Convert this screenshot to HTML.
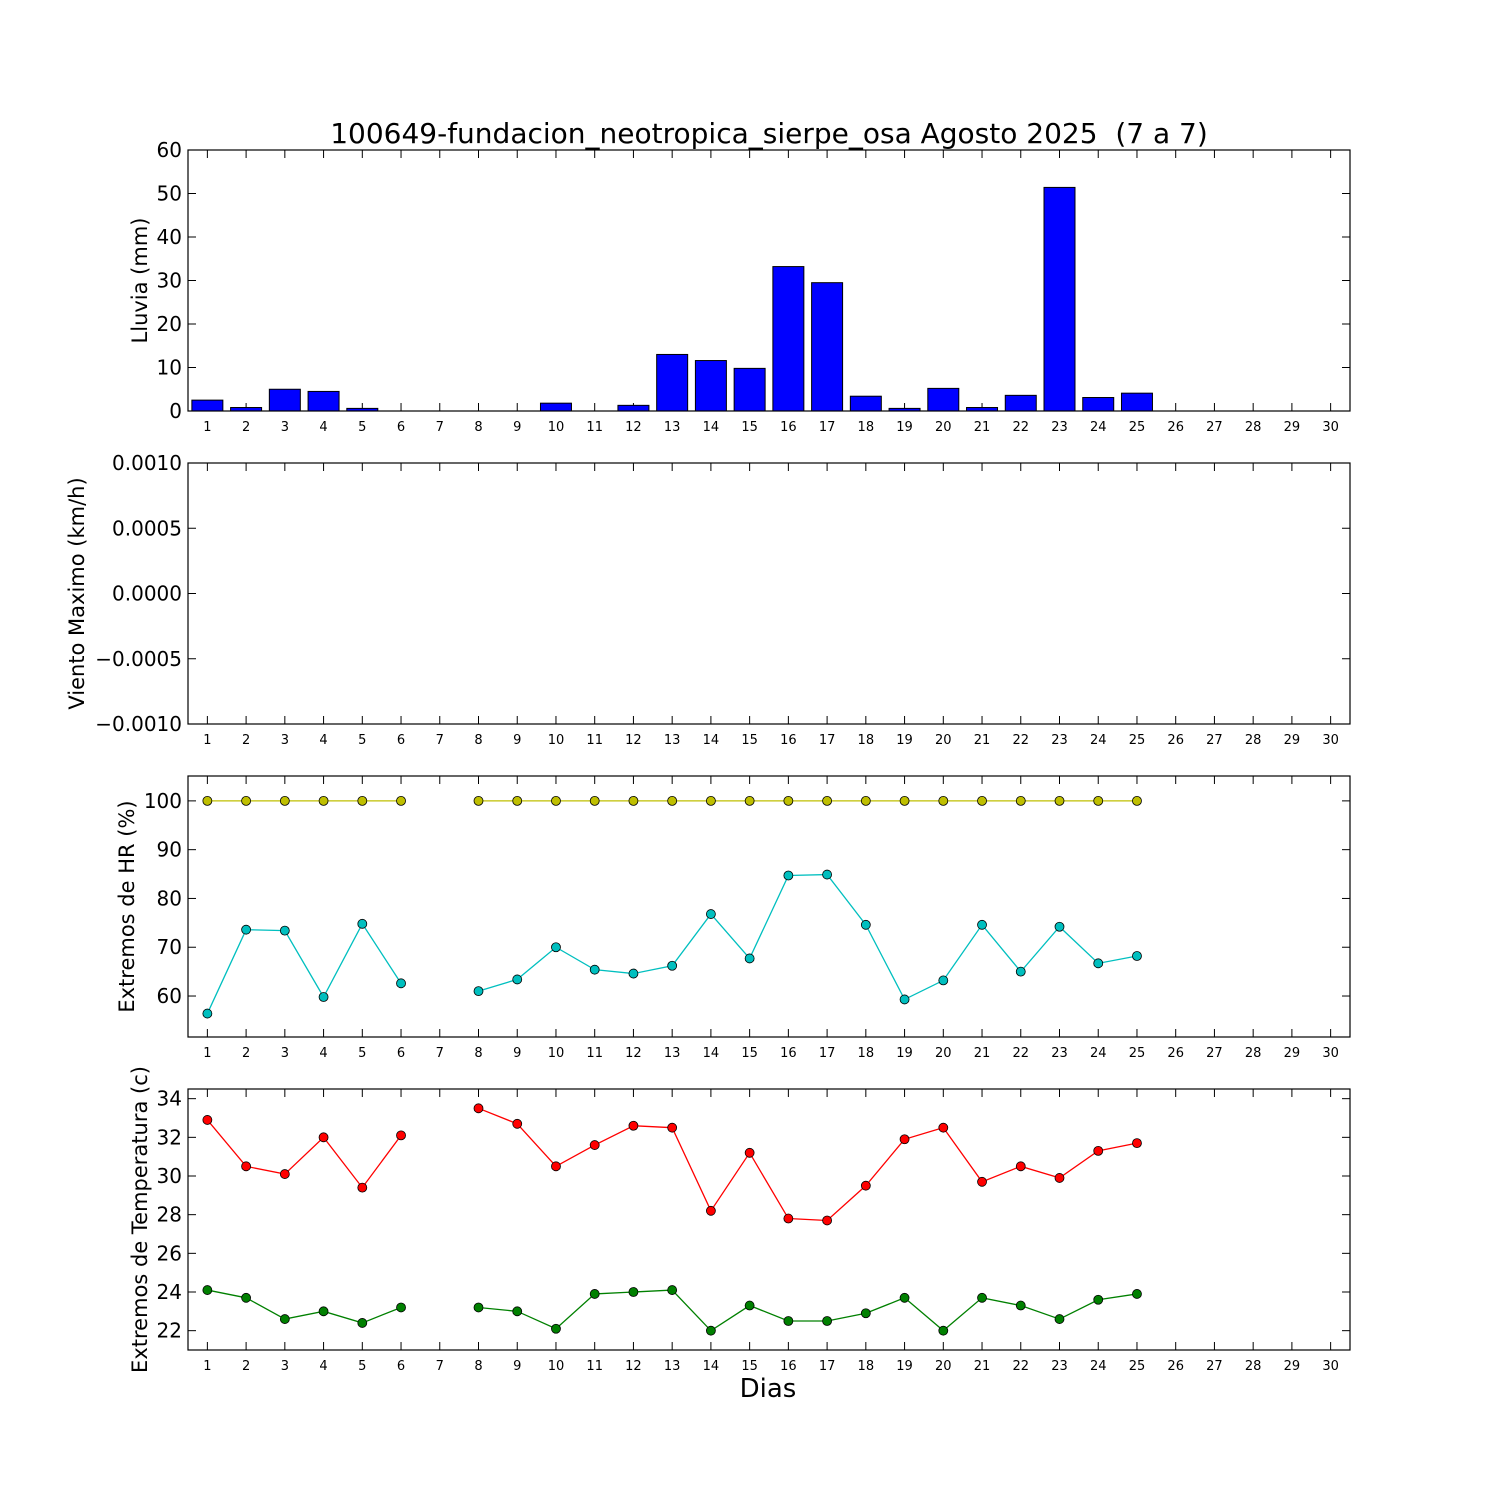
<!DOCTYPE html>
<html><head><meta charset="utf-8"><style>
body{margin:0;background:#fff}
svg text{font-family:"DejaVu Sans","Liberation Sans",sans-serif}
</style></head><body>
<svg id="chart" width="1500" height="1500" xmlns="http://www.w3.org/2000/svg">
<rect width="1500" height="1500" fill="#fff"/>
<text x="769" y="143" font-size="28" text-anchor="middle">100649-fundacion_neotropica_sierpe_osa Agosto 2025 &#160;(7 a 7)</text>
<text x="768" y="1397" font-size="26" text-anchor="middle">Dias</text>
</svg>
<script>
const days = Array.from({length:30},(_,i)=>i+1);
const rain = [2.5,0.8,5,4.5,0.6,0,0,0,0,1.8,0,1.3,13,11.6,9.8,33.2,29.5,3.4,0.6,5.2,0.8,3.6,51.4,3.1,4.1];
const hrMax = [100,100,100,100,100,100,null,100,100,100,100,100,100,100,100,100,100,100,100,100,100,100,100,100,100];
const hrMin = [56.4,73.6,73.4,59.8,74.8,62.6,null,61,63.4,70,65.4,64.6,66.2,76.8,67.7,84.7,84.9,74.6,59.3,63.2,74.6,65,74.2,66.7,68.2];
const tMax = [32.9,30.5,30.1,32,29.4,32.1,null,33.5,32.7,30.5,31.6,32.6,32.5,28.2,31.2,27.8,27.7,29.5,31.9,32.5,29.7,30.5,29.9,31.3,31.7];
const tMin = [24.1,23.7,22.6,23,22.4,23.2,null,23.2,23,22.1,23.9,24,24.1,22,23.3,22.5,22.5,22.9,23.7,22,23.7,23.3,22.6,23.6,23.9];
const rainTicks = [0,10,20,30,40,50,60];
const windTicks = ["\u22120.0010","\u22120.0005","0.0000","0.0005","0.0010"];
const hrTicks = [60,70,80,90,100];
const tTicks = [22,24,26,28,30,32,34];

const svg=document.getElementById('chart');
const NS='http://www.w3.org/2000/svg';
function mk(tag,attrs,parent){const e=document.createElementNS(NS,tag);for(const k in attrs)e.setAttribute(k,attrs[k]);(parent||svg).appendChild(e);return e;}
const L=188,R=1350;
const xs=d=>L+(d-0.5)*(R-L)/30;

function panel(name,top,bot,ymin,ymax,ticks,tickVals,ylabel,labelX){
  const g=mk('g',{});
  
  
  const ys=v=>bot-(v-ymin)/(ymax-ymin)*(bot-top);
  ticks.forEach((t,i)=>{const v=tickVals?tickVals[i]:t;const y=ys(v);
    mk('line',{x1:L,x2:L+8,y1:y,y2:y,stroke:'#000'},g);
    mk('line',{x1:R-8,x2:R,y1:y,y2:y,stroke:'#000'},g);
    const tx=mk('text',{x:L-6,y:y+7,'font-size':20,'text-anchor':'end'},g);tx.textContent=t;
    
    
  });
  days.forEach(d=>{const x=xs(d);
    mk('line',{x1:x,x2:x,y1:bot,y2:bot-8,stroke:'#000'},g);
    mk('line',{x1:x,x2:x,y1:top,y2:top+8,stroke:'#000'},g);
    const tx=mk('text',{x:x,y:bot+20,'font-size':13,'text-anchor':'middle'},g);tx.textContent=d;
    
    
  });
  const yl=mk('text',{x:0,y:0,'font-size':21,'text-anchor':'middle',transform:`translate(${labelX},${(top+bot)/2}) rotate(-90)`},g);
  yl.textContent=ylabel;
  
  
  return {g,ys,top,bot};
}
function frame(p){mk('rect',{x:L,y:p.top,width:R-L,height:p.bot-p.top,fill:'none',stroke:'#000','stroke-width':1.2},p.g);}
function series(p,vals,color,name){
  let seg=[];const segs=[];
  vals.forEach((v,i)=>{if(v==null){if(seg.length)segs.push(seg);seg=[];}else seg.push([xs(i+1),p.ys(v)]);});
  if(seg.length)segs.push(seg);
  segs.forEach(s=>{const pl=mk('polyline',{points:s.map(q=>q.join(',')).join(' '),fill:'none',stroke:color,'stroke-width':1.3},p.g);
    
    });
  vals.forEach((v,i)=>{if(v==null)return;const c=mk('circle',{cx:xs(i+1),cy:p.ys(v),r:4.5,fill:color,stroke:'#000','stroke-width':0.8},p.g);
    
    });
}

const p1=panel('rain-panel',150,411,0,60,rainTicks,null,'Lluvia (mm)',147);
rain.forEach((v,i)=>{const x=xs(i+1)-0.4*(R-L)/30;const y=p1.ys(v);
  const b=mk('rect',{x:x,y:y,width:0.8*(R-L)/30,height:p1.bot-y,fill:'#0000ff',stroke:'#000','stroke-width':1},p1.g);
  
  });
frame(p1);

const p2=panel('wind-panel',463,724,-0.001,0.001,windTicks,[-0.001,-0.0005,0,0.0005,0.001],'Viento Maximo (km/h)',84);
frame(p2);

const p3=panel('humidity-panel',776,1037,51.6,105.1,hrTicks,null,'Extremos de HR (%)',134);
series(p3,hrMax,'#bfbf00','hr-max');
series(p3,hrMin,'#00bfbf','hr-min');
frame(p3);

const p4=panel('temperature-panel',1089,1350,21,34.5,tTicks,null,'Extremos de Temperatura (c)',147);
series(p4,tMax,'#ff0000','temp-max');
series(p4,tMin,'#008000','temp-min');
frame(p4);
</script>
</body></html>
